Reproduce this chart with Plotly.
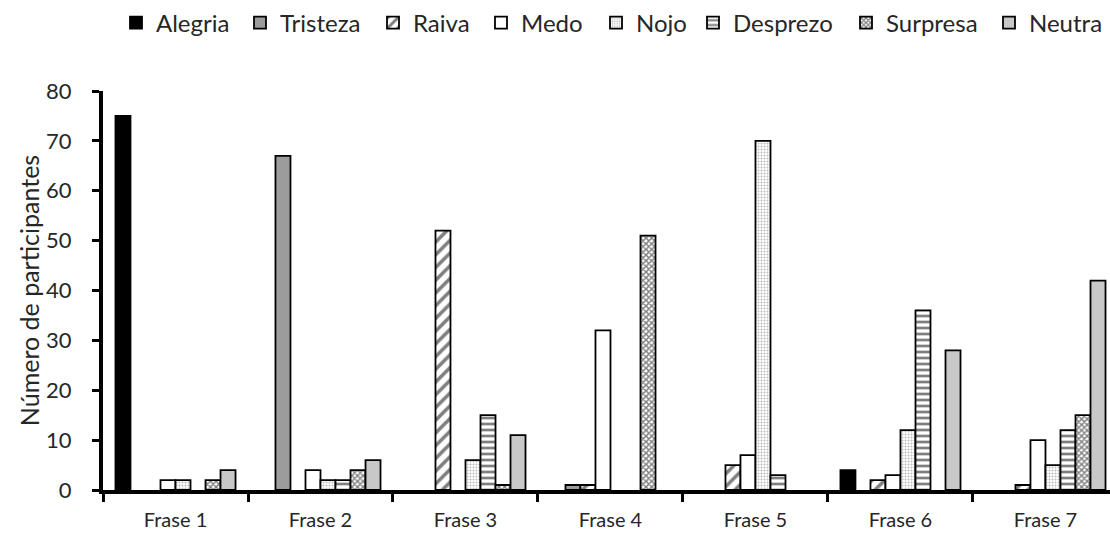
import plotly.graph_objects as go

categories = ["Frase 1", "Frase 2", "Frase 3", "Frase 4", "Frase 5", "Frase 6", "Frase 7"]
alegria  = [75, 0, 0, 0, 0, 4, 0]
tristeza = [0, 67, 0, 1, 0, 0, 0]
raiva    = [0, 0, 52, 1, 5, 2, 1]
medo     = [2, 4, 0, 32, 7, 3, 10]
nojo     = [2, 2, 6, 0, 70, 12, 5]
desprezo = [0, 2, 15, 0, 3, 36, 12]
surpresa = [2, 4, 1, 51, 0, 0, 15]
neutra   = [4, 6, 11, 0, 0, 28, 42]

series = [
    ("Alegria", alegria, dict(color="#000000")),
    ("Tristeza", tristeza, dict(color="#9c9c9c")),
    ("Raiva", raiva, dict(color="#ffffff", pattern=dict(shape="/", fgcolor="#000000", bgcolor="#ffffff", size=9, solidity=0.4))),
    ("Medo", medo, dict(color="#ffffff")),
    ("Nojo", nojo, dict(color="#ffffff", pattern=dict(shape=".", fgcolor="#777777", bgcolor="#ffffff", size=3, solidity=0.35))),
    ("Desprezo", desprezo, dict(color="#ffffff", pattern=dict(shape="-", fgcolor="#000000", bgcolor="#ffffff", size=6, solidity=0.45))),
    ("Surpresa", surpresa, dict(color="#ffffff", pattern=dict(shape="x", fgcolor="#000000", bgcolor="#ffffff", size=4, solidity=0.6))),
    ("Neutra", neutra, dict(color="#c8c8c8")),
]

# left edge (px) of each legend entry's text in the reference
legend_text_x = [155, 279, 412, 520, 635, 732, 885, 1028]

FONT = "Lato, 'Open Sans', sans-serif"
TXT = "#262626"
W, H = 1110, 536

fig = go.Figure()
legends = {}
for i, (name, vals, mk) in enumerate(series):
    marker = dict(mk)
    marker["line"] = dict(color="#000000", width=1.8)
    lname = "legend" if i == 0 else f"legend{i + 1}"
    fig.add_trace(go.Bar(name=name, x=categories,
                         y=[v if v else None for v in vals], marker=marker,
                         legend=lname, showlegend=True))
    legends[lname] = dict(orientation="h", xref="container", yref="container",
                          x=(legend_text_x[i] - 39) / W, xanchor="left",
                          y=0.957, yanchor="middle",
                          font=dict(size=24, family=FONT, color=TXT),
                          itemwidth=30, bgcolor="rgba(0,0,0,0)")

fig.update_layout(
    width=W, height=H, showlegend=True,
    paper_bgcolor="white", plot_bgcolor="white",
    barmode="group", bargap=0.172, bargroupgap=0,
    margin=dict(l=103, r=0, t=90.5, b=45.5),
    font=dict(family=FONT, color=TXT),
    xaxis=dict(range=[-0.5, 6.445], automargin=False,
               showline=True, linecolor="#000000", linewidth=4,
               ticks="outside", tickson="boundaries", ticklen=8, tickwidth=3, tickcolor="#000000",
               ticklabelstandoff=9,
               tickfont=dict(size=20, family=FONT, color=TXT)),
    yaxis=dict(range=[0, 80], dtick=10, automargin=False, showgrid=False, zeroline=False,
               showline=True, linecolor="#000000", linewidth=4,
               ticks="outside", ticklen=7, tickwidth=3, tickcolor="#000000",
               ticklabelstandoff=16,
               tickfont=dict(size=22, family=FONT, color=TXT),
               title=dict(text="Número de participantes", font=dict(size=25, family=FONT, color=TXT), standoff=0)),
    **legends,
)

fig.write_html("out.html", config={"displayModeBar": False},
               post_script="document.body.style.margin='0';")
